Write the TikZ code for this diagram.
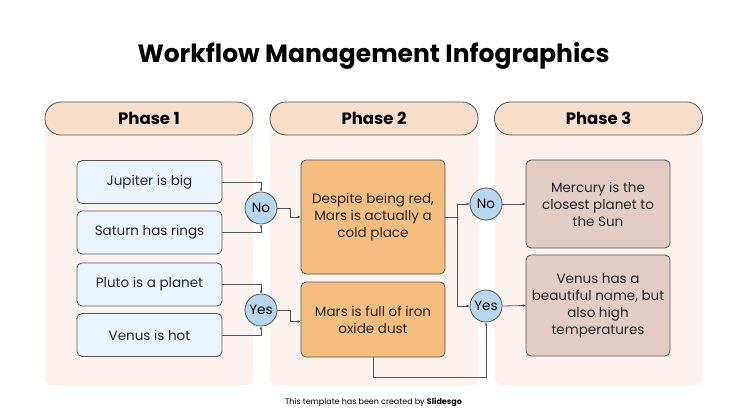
\documentclass[tikz,border=0pt]{standalone}
\usepackage{fontspec}
\setmainfont{Poppins}
\usetikzlibrary{arrows.meta}
\definecolor{panel}{HTML}{FCF3EE}
\definecolor{pill}{HTML}{F9DEC9}
\definecolor{bluebox}{HTML}{EAF4FC}
\definecolor{orangebox}{HTML}{F6BE7E}
\definecolor{rosebox}{HTML}{E3CCC6}
\definecolor{circ}{HTML}{B7D7F0}
\definecolor{edge}{HTML}{555555}
\begin{document}
\begin{tikzpicture}[x=1pt,y=-1pt,
  box/.style={draw=edge,line width=0.8pt,rounded corners=5pt,align=center,font=\fontsize{13.5}{17}\selectfont,text=black!85,inner sep=0pt},
  bbox/.style={box,fill=bluebox,minimum width=145pt,minimum height=43pt},
  obox/.style={box,fill=orangebox,minimum width=144pt},
  rbox/.style={box,fill=rosebox,minimum width=144pt},
  dec/.style={circle,draw=edge,line width=0.8pt,fill=circ,minimum size=32pt,inner sep=0pt,font=\fontsize{13.5}{17}\selectfont},
  ph/.style={draw=edge,line width=0.8pt,fill=pill,rounded corners=16pt,minimum width=208pt,minimum height=33pt,font=\bfseries\fontsize{16.5}{20}\selectfont},
  conn/.style={draw=edge,line width=0.8pt,-{Latex[length=3pt,width=3pt]}},
  pan/.style={fill=panel,rounded corners=6pt}]
\useasboundingbox (0,0) rectangle (747,420);
\fill[white] (0,0) rectangle (747,420);
\node[font=\bfseries\fontsize{25}{30}\selectfont] (title) at (373.5,56) {Workflow Management Infographics};
\fill[pan] (45,118) rectangle (253,385);
\fill[pan] (270,118) rectangle (478,385);
\fill[pan] (495,118) rectangle (702,385);
\node[ph] (p1) at (149,118.5) {Phase 1};
\node[ph] (p2) at (374,118.5) {Phase 2};
\node[ph] (p3) at (598.5,118.5) {Phase 3};
\node[bbox] (a) at (149.5,182) {Jupiter is big};
\node[bbox] (b) at (149.5,232.5) {Saturn has rings};
\node[bbox] (c) at (149.5,284.5) {Pluto is a planet};
\node[bbox] (d) at (149.5,335) {Venus is hot};
\node[dec] (no1) at (261,208) {No};
\node[dec] (yes1) at (261,310) {Yes};
\node[obox,minimum height=114pt] (m1) at (373,217) {Despite being red,\\Mars is actually a\\cold place};
\node[obox,minimum height=75pt] (m2) at (373,319.5) {Mars is full of iron\\oxide dust};
\node[dec] (no2) at (486,204) {No};
\node[dec] (yes2) at (486,306) {Yes};
\node[rbox,minimum height=88pt] (r1) at (598,204) {Mercury is the\\closest planet to\\the Sun};
\node[rbox,minimum height=101pt] (r2) at (598,305.5) {Venus has a\\beautiful name, but\\also high\\temperatures};
\path[conn] (a.east) -| (no1.north);
\path[conn] (b.east) -| (no1.south);
\path[conn] (c.east) -| (yes1.north);
\path[conn] (d.east) -| (yes1.south);
\path[conn] (no1.east) -- ++(13,0) |- (m1.west);
\path[conn] (yes1.east) -- ++(13,0) |- ([yshift=-2pt]m2.west);
\coordinate (br) at (457,217);
\draw[edge,line width=0.8pt] (m1.east) -- (br);
\path[conn] (br) |- (no2.west);
\path[conn] (br) |- (yes2.west);
\path[conn] (m2.south) -- ++(0,20) -| (yes2.south);
\path[conn] (no2.east) -- (r1.west);
\path[conn] (yes2.east) -- (r2.west);
\node[font=\fontsize{8}{9}\selectfont] (foot) at (373.5,402) {This template has been created by \textbf{Slidesgo}};
\end{tikzpicture}
\end{document}
